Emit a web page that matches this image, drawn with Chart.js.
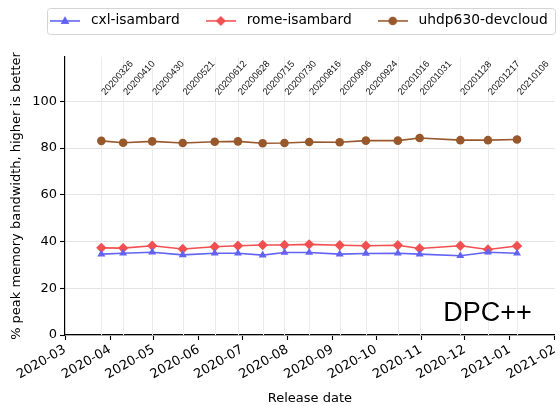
<!DOCTYPE html>
<html>
<head>
<meta charset="utf-8">
<script src="https://cdn.jsdelivr.net/npm/chart.js@4.4.0/dist/chart.umd.min.js"></script>
<style>
  html, body { margin: 0; padding: 0; background: #fff; }
</style>
</head>
<body>
<canvas id="myChart" width="560" height="406"></canvas>
<script>
var releases = ['20200326', '20200410', '20200430', '20200521', '20200612', '20200628',
                '20200715', '20200730', '20200816', '20200906', '20200924', '20201016',
                '20201031', '20201128', '20201217', '20210106'];
var monthTicks = ['2020-03', '2020-04', '2020-05', '2020-06', '2020-07', '2020-08',
                  '2020-09', '2020-10', '2020-11', '2020-12', '2021-01', '2021-02'];
var cxlValues  = [34.6, 35.0, 35.4, 34.3, 35.0, 35.0, 34.2, 35.3, 35.3, 34.6, 34.9, 35.0, 34.6, 33.9, 35.4, 35.0];
var romeValues = [37.3, 37.2, 38.2, 36.8, 37.8, 38.2, 38.5, 38.5, 38.8, 38.4, 38.2, 38.4, 37.0, 38.2, 36.6, 38.1];
var uhdpValues = [83.1, 82.3, 82.9, 82.2, 82.7, 82.9, 82.1, 82.2, 82.6, 82.5, 83.2, 83.2, 84.3, 83.4, 83.4, 83.7];
var yTicks = [0, 20, 40, 60, 80, 100];

var BLUE = '#6262f4';
var RED = '#f25050';
var BROWN = '#98582c';

// days since 2020-03-01
var origin = Date.UTC(2020, 2, 1);
function toDay(y, m, d){
    return (Date.UTC(y, m - 1, d) - origin) / 86400000;
}
function releaseDay(s){
    return toDay(+s.slice(0, 4), +s.slice(4, 6), +s.slice(6, 8));
}
function monthDay(s){
    return toDay(+s.slice(0, 4), +s.slice(5, 7), 1);
}

function points(values){
    var out = [];
    for (var i in values) {
        out.push({x: releaseDay(releases[i]), y: values[i]});
    }
    return out;
}

function legendIcon(color, style){
    var c = document.createElement('canvas');
    c.width = 30; c.height = 14;
    var g = c.getContext('2d');
    g.strokeStyle = color;
    g.lineWidth = 1.6;
    g.beginPath(); g.moveTo(0, 7); g.lineTo(30, 7); g.stroke();
    g.fillStyle = color;
    g.beginPath();
    if (style == 'triangle') {
        g.moveTo(15, 2.3); g.lineTo(19.4, 10); g.lineTo(10.6, 10);
    } else if (style == 'rectRot') {
        g.moveTo(15, 2); g.lineTo(20, 7); g.lineTo(15, 12); g.lineTo(10, 7);
    } else {
        g.arc(15, 7, 4.3, 0, Math.PI * 2);
    }
    g.closePath();
    g.fill();
    return c;
}

var LEGEND_PAD = 22;

var extras = {
    id: 'extras',
    beforeInit: function(chart){
        var fit = chart.legend.fit;
        chart.legend.fit = function(){
            this.maxWidth = 900;
            fit.bind(chart.legend)();
            this.height = 57;
        };
    },
    afterLayout: function(chart){
        chart.legend.left = 24;
        chart.legend.right = 900;
        chart.legend.top = -8;
    },
    beforeDatasetsDraw: function(chart){
        var ctx = chart.ctx;
        var area = chart.chartArea;
        var xs = chart.scales.x;
        ctx.save();
        ctx.strokeStyle = '#ececec';
        ctx.lineWidth = 1;
        for (var r of releases) {
            var px = Math.round(xs.getPixelForValue(releaseDay(r))) + 0.5;
            ctx.beginPath();
            ctx.moveTo(px, area.top);
            ctx.lineTo(px, area.bottom);
            ctx.stroke();
        }
        ctx.restore();
    },
    afterDraw: function(chart){
        var ctx = chart.ctx;
        var area = chart.chartArea;
        var xs = chart.scales.x;
        var ys = chart.scales.y;
        ctx.save();
        // release labels
        ctx.fillStyle = '#111';
        ctx.font = '9.5px "Liberation Sans"';
        ctx.textAlign = 'left';
        ctx.textBaseline = 'alphabetic';
        for (var r of releases) {
            ctx.save();
            ctx.translate(xs.getPixelForValue(releaseDay(r)) + 4, ys.getPixelForValue(102.5));
            ctx.rotate(-48 * Math.PI / 180);
            ctx.fillText(r, 0, 0);
            ctx.restore();
        }
        // DPC++
        ctx.fillStyle = '#000';
        ctx.font = '27px "Liberation Sans"';
        ctx.textAlign = 'right';
        ctx.fillText('DPC++', area.right - 23, area.bottom - 14);
        // legend frame
        var legend = chart.legend;
        var boxes = legend.legendHitBoxes;
        if (boxes && boxes.length) {
            var l = boxes[0].left + 1;
            var rgt = boxes[0].left + legend.lineWidths[0] - LEGEND_PAD + 7;
            var t = 8.5, b = 34.5;
            ctx.strokeStyle = '#d4d4d4';
            ctx.lineWidth = 1;
            ctx.beginPath();
            ctx.roundRect(Math.round(l) + 0.5, t, Math.round(rgt - l), b - t, 3);
            ctx.stroke();
        }
        ctx.restore();
    }
};

var ctx = document.getElementById('myChart').getContext('2d');
var chart = new Chart(ctx, {
    type: 'line',
    data: {
        datasets: [{
            label: 'cxl-isambard',
            data: points(cxlValues),
            borderColor: BLUE,
            backgroundColor: BLUE,
            pointStyle: 'triangle',
            pointRadius: 4.6,
            icon: legendIcon(BLUE, 'triangle')
        }, {
            label: 'rome-isambard',
            data: points(romeValues),
            borderColor: RED,
            backgroundColor: RED,
            pointStyle: 'rectRot',
            pointRadius: 5.2,
            icon: legendIcon(RED, 'rectRot')
        }, {
            label: 'uhdp630-devcloud',
            data: points(uhdpValues),
            borderColor: BROWN,
            backgroundColor: BROWN,
            pointStyle: 'circle',
            pointRadius: 4.3,
            icon: legendIcon(BROWN, 'circle')
        }]
    },
    options: {
        responsive: false,
        animation: false,
        devicePixelRatio: 1,
        layout: {padding: 0},
        elements: {
            line: {borderWidth: 1.6, tension: 0},
            point: {borderWidth: 0, hoverRadius: 5}
        },
        plugins: {
            tooltip: {enabled: false},
            legend: {
                position: 'top',
                align: 'start',
                labels: {
                    usePointStyle: true,
                    pointStyleWidth: 38,
                    padding: LEGEND_PAD,
                    color: '#111',
                    font: {family: 'DejaVu Sans', size: 13.8},
                    generateLabels: function(chart){
                        return chart.data.datasets.map(function(ds, i){
                            return {
                                text: ds.label,
                                pointStyle: ds.icon,
                                fillStyle: ds.borderColor,
                                strokeStyle: ds.borderColor,
                                lineWidth: 0,
                                hidden: false,
                                datasetIndex: i
                            };
                        });
                    }
                }
            }
        },
        scales: {
            x: {
                type: 'linear',
                min: monthDay(monthTicks[0]),
                max: monthDay(monthTicks[monthTicks.length - 1]),
                afterBuildTicks: function(scale){
                    scale.ticks = monthTicks.map(function(m){ return {value: monthDay(m)}; });
                },
                afterFit: function(scale){
                    scale.height = 71;
                    scale.paddingLeft = 0;
                    scale.paddingRight = 0;
                },
                ticks: {
                    autoSkip: false,
                    minRotation: 30,
                    maxRotation: 30,
                    padding: 2,
                    color: '#000',
                    font: {family: 'DejaVu Sans', size: 13},
                    callback: function(value, index){ return monthTicks[index]; }
                },
                grid: {
                    drawOnChartArea: false,
                    drawTicks: true,
                    tickLength: 5,
                    tickColor: '#000',
                    tickWidth: 1.1
                },
                border: {color: '#000', width: 1.2},
                title: {
                    display: true,
                    text: 'Release date',
                    color: '#000',
                    font: {family: 'DejaVu Sans', size: 13},
                    padding: {top: 0, bottom: 0}
                }
            },
            y: {
                min: 0,
                max: 119,
                afterBuildTicks: function(scale){
                    scale.ticks = yTicks.map(function(v){ return {value: v}; });
                },
                afterFit: function(scale){
                    scale.width = 65;
                },
                ticks: {
                    padding: 3,
                    color: '#000',
                    font: {family: 'DejaVu Sans', size: 13}
                },
                grid: {
                    color: '#e4e4e4',
                    lineWidth: 1,
                    tickLength: 5,
                    tickColor: '#000',
                    tickWidth: 1.1
                },
                border: {color: '#000', width: 1.2},
                title: {
                    display: true,
                    text: '% peak memory bandwidth, higher is better',
                    color: '#000',
                    font: {family: 'DejaVu Sans', size: 13},
                    padding: {top: 9, bottom: 0}
                }
            }
        }
    },
    plugins: [extras]
});
</script>
</body>
</html>
